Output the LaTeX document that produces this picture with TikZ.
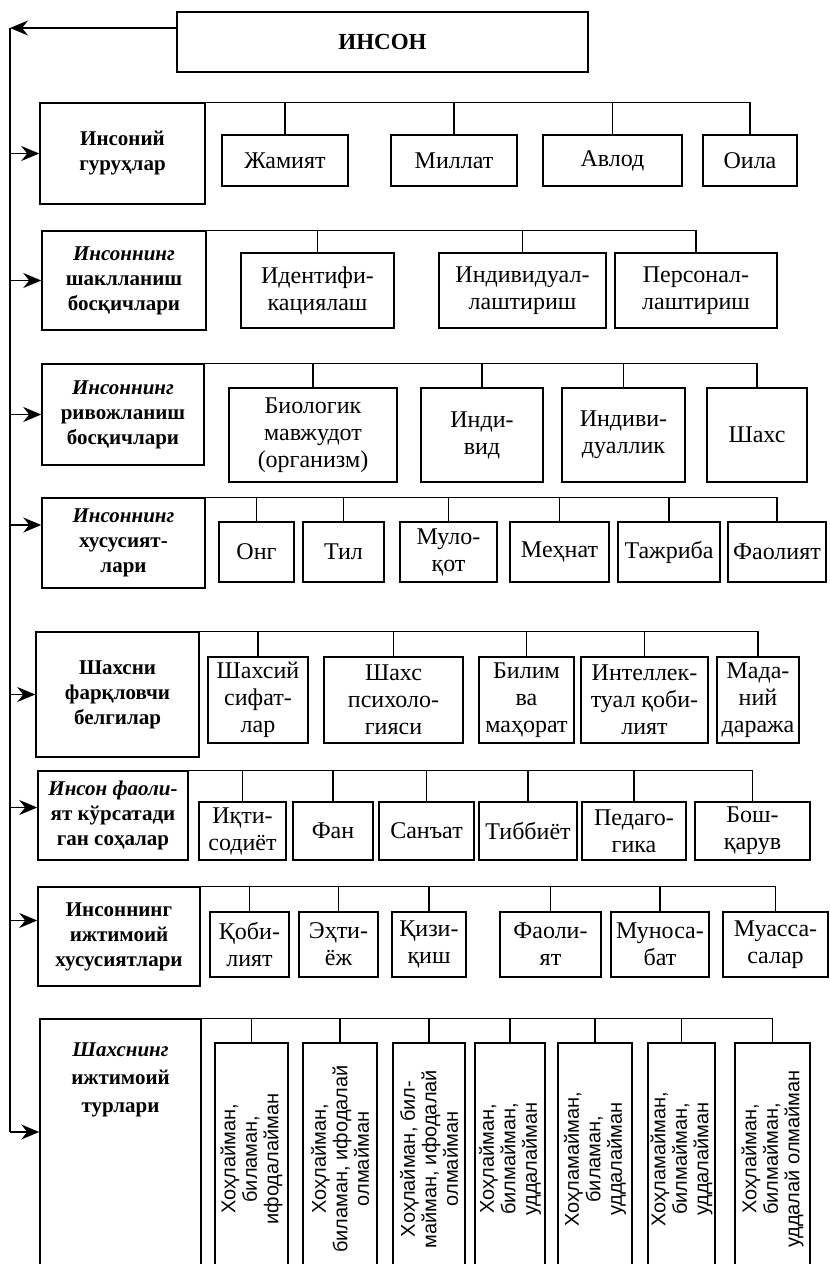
\documentclass[tikz,border=0pt]{standalone}
\usepackage{fontspec}
\setmainfont{Liberation Serif}
\setsansfont{Liberation Sans}
\usepackage{tikz}
\usetikzlibrary{arrows.meta, positioning, calc}

\begin{document}
\begin{tikzpicture}[x=1pt, y=-1pt, line width=1.5pt,
  arr/.style={-{Stealth[length=18pt, width=15pt, inset=6pt]}},
  lbl/.style={draw, align=center, inner sep=0pt, font=\fontsize{21}{25}\selectfont\bfseries},
  item/.style={draw, align=center, inner sep=0pt, font=\fontsize{24}{27}\selectfont},
  vitem/.style={draw, align=center, inner sep=0pt, rotate=90, font=\sffamily\fontsize{20}{21.5}\selectfont}]
  \useasboundingbox (0,0) rectangle (830,1264);
  \clip (0,0) rectangle (830,1264);

  % Top box and spine
  \node[draw, minimum width=411, minimum height=60, font=\fontsize{23}{26}\selectfont\bfseries] (inson) at (382.5,42) {ИНСОН};
  \coordinate (top) at (10,28);
  \coordinate (bot) at (10,1132);
  \draw[arr] (inson.west |- top) -- (top);
  \draw (top) -- (bot);

  % Row 1
  \node[lbl, minimum width=165, minimum height=101] (r1) at (122.5,153.5) {Инсоний\\гуруҳлар};
  \foreach \i/\xa/\xb/\txt in {1/222/348/Жамият, 2/391/517/Миллат, 3/543/682/Авлод, 4/703/797/Оила} {
    \node[item, minimum width={\xb-\xa}, minimum height=51] (r1c\i) at ({(\xa+\xb)/2},160.5) {\txt};
    \draw (r1c\i.north) -- (r1c\i.north |- r1.north);
  }
  \draw (r1.north west) -- (r1c4.north |- r1.north);

  % Row 2
  \node[lbl, minimum width=164, minimum height=99] (r2) at (124,280.5) {{\itshape Инсоннинг}\\шаклланиш\\босқичлари};
  \foreach \i/\xa/\xb/\txt in {1/241/394/Идентифи-\\кациялаш, 2/439/606/Индивидуал-\\лаштириш, 3/615/777/Персонал-\\лаштириш} {
    \node[item, minimum width={\xb-\xa}, minimum height=75] (r2c\i) at ({(\xa+\xb)/2},290.5) {\txt};
    \draw (r2c\i.north) -- (r2c\i.north |- r2.north);
  }
  \draw (r2.north west) -- (r2c3.north |- r2.north);

  % Row 3
  \node[lbl, minimum width=162, minimum height=101] (r3) at (123,414.5) {{\itshape Инсоннинг}\\ривожланиш\\босқичлари};
  \foreach \i/\xa/\xb/\txt in {1/229/397/Биологик\\мавжудот\\(организм), 2/421/543/Инди-\\вид, 3/562/685/Индиви-\\дуаллик, 4/707/807/Шахс} {
    \node[item, minimum width={\xb-\xa}, minimum height=94] (r3c\i) at ({(\xa+\xb)/2},435) {\txt};
    \draw (r3c\i.north) -- (r3c\i.north |- r3.north);
  }
  \draw (r3.north west) -- (r3c4.north |- r3.north);

  % Row 4
  \node[lbl, minimum width=163, minimum height=90] (r4) at (123.5,543) {{\itshape Инсоннинг}\\хусусият-\\лари};
  \foreach \i/\xa/\xb/\txt in {1/219/294/Онг, 2/303/384/Тил, 3/400/497/Муло-\\қот, 4/510/609/Меҳнат, 5/618/720/Тажриба, 6/728/826/Фаолият} {
    \node[item, minimum width={\xb-\xa}, minimum height=60] (r4c\i) at ({(\xa+\xb)/2},552) {\txt};
    \draw (r4c\i.north) -- (r4c\i.north |- r4.north);
  }
  \draw (r4.north west) -- (r4c6.north |- r4.north);

  % Row 5
  \node[lbl, minimum width=163, minimum height=125] (r5) at (117.5,694.5) {Шахсни\\фарқловчи\\белгилар};
  \foreach \i/\xa/\xb/\txt in {1/208/308/Шахсий\\сифат-\\лар, 2/324/463/Шахс\\психоло-\\гияси, 3/479/574/Билим\\ва\\маҳорат, 4/581/708/Интеллек-\\туал қоби-\\лият, 5/717/799/Мада-\\ний\\даража} {
    \node[item, minimum width={\xb-\xa}, minimum height=86] (r5c\i) at ({(\xa+\xb)/2},700) {\txt};
    \draw (r5c\i.north) -- (r5c\i.north |- r5.north);
  }
  \draw (r5.north west) -- (r5c5.north |- r5.north);

  % Row 6
  \node[lbl, minimum width=150, minimum height=89] (r6) at (113,815.5) {{\itshape Инсон фаоли-}\\ят кўрсатади\\ган соҳалар};
  \foreach \i/\xa/\xb/\txt in {1/199/286/Иқти-\\содиёт, 2/293/373/Фан, 3/379/474/Санъат, 4/479/577/Тиббиёт, 5/582/686/Педаго-\\гика, 6/695/810/Бош-\\қарув} {
    \node[item, minimum width={\xb-\xa}, minimum height=58] (r6c\i) at ({(\xa+\xb)/2},831) {\txt};
    \draw (r6c\i.north) -- (r6c\i.north |- r6.north);
  }
  \draw (r6.north west) -- (r6c6.north |- r6.north);

  % Row 7
  \node[lbl, minimum width=162, minimum height=99] (r7) at (119,936.5) {Инсоннинг\\ижтимоий\\хусусиятлари};
  \foreach \i/\xa/\xb/\txt in {1/210/289/Қоби-\\лият, 2/299/378/Эҳти-\\ёж, 3/392/466/Қизи-\\қиш, 4/500/601/Фаоли-\\ят, 5/611/709/Муноса-\\бат, 6/723/828/Муасса-\\салар} {
    \node[item, minimum width={\xb-\xa}, minimum height=65] (r7c\i) at ({(\xa+\xb)/2},944.5) {\txt};
    \draw (r7c\i.north) -- (r7c\i.north |- r7.north);
  }
  \draw (r7.north west) -- (r7c6.north |- r7.north);

  % Row 8
  \node[draw, minimum width=161, minimum height=271] (r8) at (120.5,1154.5) {};
  \node[lbl, draw=none, font=\fontsize{21}{28}\selectfont\bfseries, below=24pt of r8.north] (r8t) {{\itshape Шахснинг}\\ижтимоий\\турлари};
  \foreach \i/\xa/\xb/\txt in {1/215/288/{Хоҳлайман,\\биламан,\\ифодалайман}, 2/303/377/{Хоҳлайман,\\биламан, ифодалай\\олмайман}, 3/393/465/{Хоҳлайман, бил-\\майман, ифодалай\\олмайман}, 4/475/545/{Хоҳлайман,\\билмайман,\\уддалайман}, 5/558/632/{Хоҳламайман,\\биламан,\\уддалайман}, 6/648/715/{Хоҳламайман,\\билмайман,\\уддалайман}, 7/735/810/{Хоҳлайман,\\билмайман,\\уддалай олмайман}} {
    \node[vitem, minimum width=232, minimum height={\xb-\xa}] (r8c\i) at ({(\xa+\xb)/2},1159) {\txt};
    \draw (r8c\i.east) -- (r8c\i.east |- r8.north);
  }
  \draw (r8.north west) -- (r8c7.east |- r8.north);

  % Arrows from the spine
  \foreach \r in {1,2,3,5} {
    \draw[arr] (top |- r\r.west) -- (r\r.west);
  }
  \draw[arr, transform canvas={yshift=18pt}] (top |- r4.west) -- (r4.west);
  \draw[arr, transform canvas={yshift=8pt}] (top |- r6.west) -- (r6.west);
  \draw[arr, transform canvas={yshift=16pt}] (top |- r7.west) -- (r7.west);
  \draw[arr] (bot) -- (bot -| r8.west);
\end{tikzpicture}
\end{document}
